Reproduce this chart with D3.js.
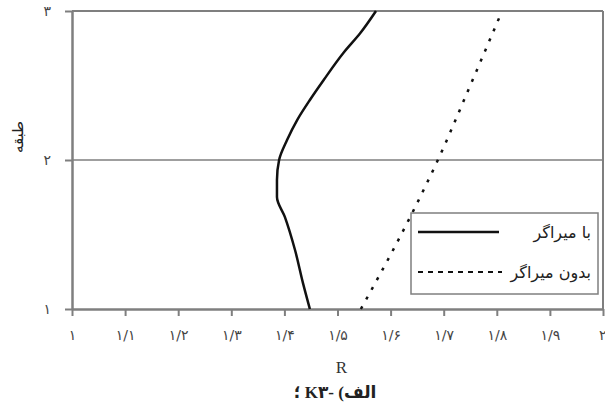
<!DOCTYPE html>
<html><head><meta charset="utf-8">
<script src="https://cdn.jsdelivr.net/npm/d3@7"></script>
<style>
body{margin:0;background:#fff;}
svg{display:block;font-family:"Liberation Serif","DejaVu Sans",serif;}
</style></head>
<body><svg id="c" width="605" height="407"></svg>
<script>
// Data
const xTickValues = [1,1.1,1.2,1.3,1.4,1.5,1.6,1.7,1.8,1.9,2];
const xTickLabels = ["۱","۱/۱","۱/۲","۱/۳","۱/۴","۱/۵","۱/۶","۱/۷","۱/۸","۱/۹","۲"];
const yTickValues = [1,2,3];
const yTickLabels = ["۱","۲","۳"];
const withDamperFloor = [1,1.174,1.396,1.617,1.752,1.866,2.0,2.134,2.268,2.403,2.537,2.718,2.852,3.0];
const withDamperR     = [1.448,1.435,1.42,1.401,1.386,1.386,1.39,1.405,1.424,1.448,1.474,1.511,1.543,1.5725];
const noDamperFloor = [1,1.5,2,2.5,3];
const noDamperR     = [1.544,1.62,1.689,1.75,1.81];
const seriesNames = ["با میراگر","بدون میراگر"];
const xTitle = "R";
const yTitle = "طبقه";
const caption = "الف) -K۳ ؛";

const svg = d3.select("#c");
const L=72,R=603,T=11,B=309;
const x = d3.scaleLinear().domain([1,2]).range([L,R]);
const y = d3.scaleLinear().domain([1,3]).range([B,T]);
const grey="#7f7f7f";

// gridline at floor 2 and frame
svg.append("line").attr("x1",L).attr("x2",R).attr("y1",y(2)).attr("y2",y(2)).attr("stroke",grey).attr("stroke-width",1.5);
svg.append("line").attr("x1",L).attr("x2",R).attr("y1",T).attr("y2",T).attr("stroke",grey).attr("stroke-width",2);
svg.append("line").attr("x1",R).attr("x2",R).attr("y1",T).attr("y2",B).attr("stroke",grey).attr("stroke-width",2);

// axes
const xAxis = d3.axisBottom(x).tickValues(xTickValues).tickFormat((d,i)=>xTickLabels[i]).tickSizeInner(7).tickSizeOuter(0).tickPadding(14);
const gx = svg.append("g").attr("transform",`translate(0,${B})`).call(xAxis);
gx.select(".domain").attr("stroke",grey).attr("stroke-width",2.5);
gx.selectAll(".tick line").attr("stroke",grey).attr("stroke-width",2);
gx.selectAll(".tick text").attr("font-size",14).attr("fill","#444").attr("font-family","DejaVu Sans")
  .attr("text-anchor",(d,i)=>i===xTickValues.length-1?"end":"middle")
  .attr("dx",(d,i)=>i===xTickValues.length-1?"3":"0");

const yAxis = d3.axisLeft(y).tickValues(yTickValues).tickFormat((d,i)=>yTickLabels[i]).tickSizeInner(7).tickSizeOuter(0).tickPadding(14);
const gy = svg.append("g").attr("transform",`translate(${L},0)`).call(yAxis);
gy.select(".domain").attr("stroke",grey).attr("stroke-width",2.5);
gy.selectAll(".tick line").attr("stroke",grey).attr("stroke-width",2);
gy.selectAll(".tick text").attr("font-size",14).attr("fill","#444").attr("font-family","DejaVu Sans");

// series
const line = d3.line().x(d=>x(d[0])).y(d=>y(d[1])).curve(d3.curveMonotoneY);
svg.append("path").datum(withDamperR.map((r,i)=>[r,withDamperFloor[i]]))
  .attr("d",line).attr("fill","none").attr("stroke","#111").attr("stroke-width",2.5);
svg.append("path").datum(noDamperR.map((r,i)=>[r,noDamperFloor[i]]))
  .attr("d",line).attr("fill","none").attr("stroke","#111").attr("stroke-width",2.5).attr("stroke-dasharray","3,8");

// legend
const lg = svg.append("g");
lg.append("rect").attr("x",411).attr("y",213).attr("width",187).attr("height",81).attr("fill","#fff").attr("stroke",grey).attr("stroke-width",1.5);
lg.append("line").attr("x1",418).attr("x2",499).attr("y1",232).attr("y2",232).attr("stroke","#111").attr("stroke-width",2.5);
lg.append("line").attr("x1",418).attr("x2",502).attr("y1",272).attr("y2",272).attr("stroke","#111").attr("stroke-width",2).attr("stroke-dasharray","5,5");
lg.selectAll("text.lt").data(seriesNames).join("text").attr("class","lt")
  .attr("x",591).attr("y",(d,i)=>232+i*40).attr("dy","0.35em")
  .attr("text-anchor","end").attr("direction","ltr").attr("font-size",16).attr("fill","#222").attr("font-family","DejaVu Sans")
  .text(d=>d);

// titles
svg.append("text").attr("x",(L+R)/2+4).attr("y",367).attr("dy","0.35em").attr("text-anchor","middle")
  .attr("font-size",17).attr("fill","#333").text(xTitle);
svg.append("text").attr("transform","translate(18,137) rotate(-90)").attr("dy","0.35em").attr("text-anchor","middle")
  .attr("font-size",15).attr("fill","#222").attr("font-family","DejaVu Sans").text(yTitle);
svg.append("text").attr("x",335).attr("y",392).attr("dy","0.35em").attr("text-anchor","middle")
  .attr("direction","rtl").attr("font-size",17).attr("font-weight","bold").attr("fill","#222").text(caption);
</script></body></html>
